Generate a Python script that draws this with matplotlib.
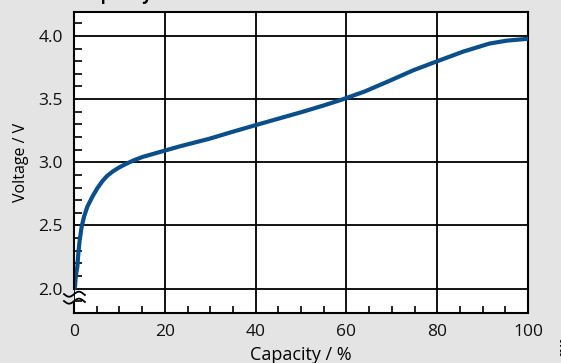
import numpy as np
import matplotlib.pyplot as plt
from matplotlib.ticker import MultipleLocator

capacity = [0, 0.22, 0.37, 0.74, 0.96, 1.25, 1.69, 2.21, 2.94, 4.05, 5.15, 6.25, 7.3, 8.46,
            9.9, 11.4, 13.2, 15.1, 18.8, 23.2, 29.8, 35, 40, 45, 50.4, 55, 58.5, 64, 69.5,
            74.7, 80, 85.7, 91.5, 95.3, 100]
voltage = [2.0, 2.014, 2.093, 2.173, 2.279, 2.384, 2.49, 2.569, 2.648, 2.727, 2.795, 2.85,
           2.892, 2.925, 2.958, 2.986, 3.016, 3.042, 3.08, 3.125, 3.186, 3.242, 3.294, 3.345,
           3.40, 3.45, 3.49, 3.56, 3.645, 3.728, 3.80, 3.876, 3.94, 3.963, 3.978]

xticks = [0, 20, 40, 60, 80, 100]
yticks = [2.0, 2.5, 3.0, 3.5, 4.0]

bg = '#e3e4e3'
plt.rcParams['font.family'] = ['Open Sans', 'DejaVu Sans']

fig = plt.figure(figsize=(5.61, 3.63), dpi=100, facecolor=bg)
ax = fig.add_axes([74 / 561, 50 / 363, 454 / 561, 301.5 / 363])
ax.set_facecolor('white')

ax.set_xlim(0, 100)
ax.set_ylim(1.806, 4.194)
ax.set_xticks(xticks)
ax.set_yticks(yticks)
ax.set_yticklabels([f'{t:.1f}' for t in yticks])
ax.xaxis.set_minor_locator(MultipleLocator(5))
ax.yaxis.set_minor_locator(MultipleLocator(0.1))
ax.tick_params(which='major', length=0, labelsize=12.5, pad=8, colors='#111111')
ax.tick_params(which='minor', direction='in', length=6, width=1.2, color='black')
ax.tick_params(axis='x', which='minor', length=5)
ax.tick_params(axis='y', which='minor', right=False)
ax.tick_params(axis='x', which='minor', top=False)

ax.grid(True, which='major', color='black', linewidth=1.3)
for s in ['top', 'right', 'bottom']:
    ax.spines[s].set_linewidth(1.5)
ax.spines['left'].set_visible(False)

# left spine with a break below 2.0
ax.plot([0, 0], [4.194, 2.0], color='black', lw=1.5, clip_on=False, zorder=5)
ax.plot([0, 0], [1.806, 1.885], color='black', lw=1.5, clip_on=False, zorder=5)
t = np.linspace(-2.2, 2.4, 50)
for yb in [1.955, 1.9]:
    ax.plot(t, yb + 0.02 * np.sin(t * 1.45), color='black', lw=1.3,
            clip_on=False, zorder=6)

ax.plot(capacity, voltage, color='#0b4f8a', lw=3, solid_capstyle='round',
        solid_joinstyle='round', zorder=4)

ax.set_xlabel('Capacity / %', fontsize=13, labelpad=4)
ax.set_ylabel('Voltage / V', fontsize=11.5, labelpad=7)

fig.text(80 / 561, 1.0, 'Capacity', fontsize=12, fontweight='bold', va='baseline')
fig.text(0.997, 0.02, '0010', fontsize=6, fontweight='bold', rotation=90, ha='left', va='bottom')

fig.savefig('out.png', dpi=100, facecolor=bg)
